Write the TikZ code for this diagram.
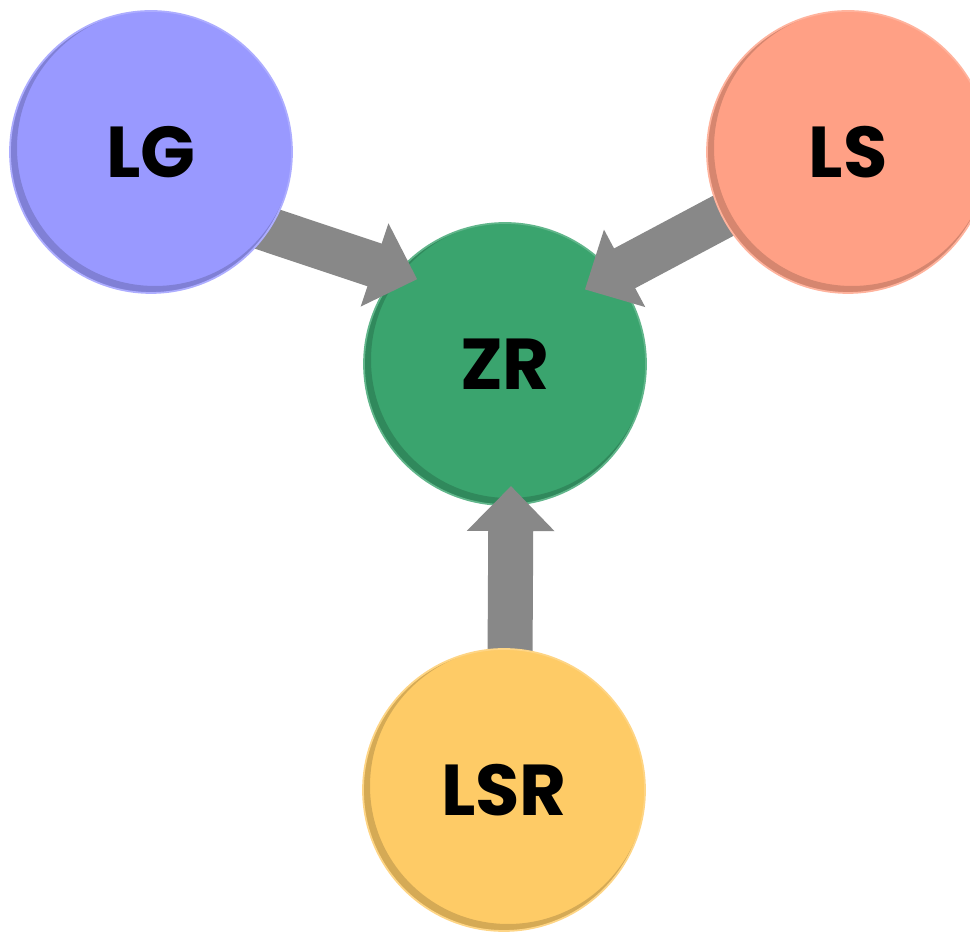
\documentclass[tikz,border=0pt]{standalone}
\usepackage{fontspec}
\setsansfont{Poppins}
\usetikzlibrary{arrows.meta,calc,positioning}

\pgfdeclarelayer{front}
\pgfsetlayers{main,front}

\definecolor{lgblue}{HTML}{9999FF}
\definecolor{lssalmon}{HTML}{FFA085}
\definecolor{zrgreen}{HTML}{3AA46E}
\definecolor{lsryellow}{HTML}{FECB66}
\definecolor{flowgray}{HTML}{888888}

\begin{document}
\begin{tikzpicture}[
  font=\sffamily\bfseries\fontsize{41}{46}\selectfont,
  bubble/.style={circle, minimum size=5.64cm, inner sep=0pt,
                 fill=#1, draw=#1!80!white, line width=1pt,
                 path picture={
                   \fill[black, opacity=0.16, even odd rule]
                     (path picture bounding box.center) circle (2.82cm)
                     ([shift={(0.08cm,0.08cm)}]path picture bounding box.center) circle (2.76cm);
                 }},
  flow/.style={draw=flowgray, line width=0.9cm,
               -{Triangle[length=0.9cm,width=1.7cm]}}
]
\useasboundingbox (0,0) rectangle (19.4,18.66);

% ====================== CENTRO ======================
\node[bubble=zrgreen] (ZR) at (10.1,11.38) {ZR};

% ====================== SORGENTI ======================
\begin{pgfonlayer}{front}
\node[bubble=lgblue]    (LG)  at (3.02,15.62) {LG};
\node[bubble=lssalmon]  (LS)  at (16.96,15.62) {LS};
\node[bubble=lsryellow] (LSR) at (10.08,2.86) {LSR};
\end{pgfonlayer}

% ====================== FRECCE ======================
\draw[flow] ($(LG)!0.9!(LG.-35)$) -- ($(ZR)!0.86!(ZR.136)$);
\draw[flow] ($(LS)!0.9!(LS.207)$) -- ($(ZR)!0.77!(ZR.43)$);
\draw[flow] ($(LSR)!0.9!(LSR.north)+(0.12,0)$) -- ($(ZR)!0.86!(ZR.south)+(0.12,0)$);

\end{tikzpicture}
\end{document}
